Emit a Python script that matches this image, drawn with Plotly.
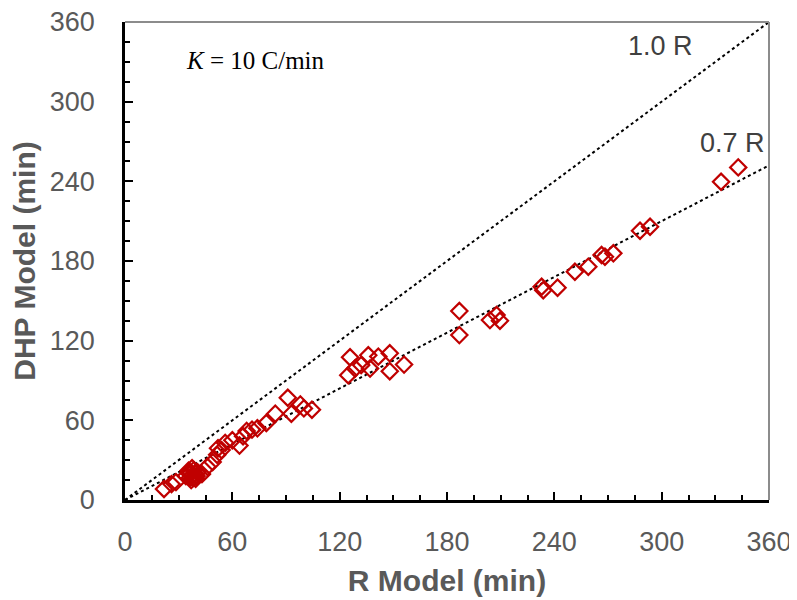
import plotly.graph_objects as go

r_model = [21.8, 26.0, 28.5, 34.0, 36.0, 37.5, 38.0, 39.0, 37.0, 40.0, 35.5, 36.5, 38.5, 39.5,
           40.5, 37.8, 36.2, 43.0, 46.0, 49.0,
           51.5, 52.0, 54.0, 56.0, 60.0, 64.0, 66.0, 68.0, 71.0, 74.0, 79.0, 84.0, 91.0, 93.0,
           98.0, 100.0, 104.5, 124.8, 125.8, 128.6, 132.0, 136.0, 137.0, 141.6, 148.0, 148.0,
           156.0, 186.9, 186.9, 204.0, 207.7, 209.6, 232.9, 233.8, 241.8, 251.5, 259.0, 266.4,
           268.3, 273.0, 287.9, 293.5, 333.2, 342.8]
dhp_model = [8.3, 12.0, 13.5, 18.0, 21.0, 24.0, 16.5, 20.0, 15.0, 18.0, 22.0, 17.0, 22.5, 16.0,
             21.0, 19.0, 19.5, 19.5, 25.0, 28.6,
             34.0, 39.0, 37.6, 43.0, 45.0, 41.0, 48.0, 52.0, 53.0, 54.0, 58.0, 65.0, 77.0, 65.0,
             72.0, 69.0, 68.0, 94.0, 107.5, 99.0, 101.6, 109.0, 99.0, 108.0, 110.5, 97.0,
             102.0, 142.3, 124.2, 135.5, 139.3, 135.0, 160.6, 158.0, 159.9, 171.9, 175.7, 184.5,
             183.2, 185.8, 202.8, 205.8, 239.7, 250.5]
ratio_lines = [1.0, 0.7]
ratio_labels = ["1.0 R", "0.7 R"]
axis_max = 360
tick_vals = [0, 60, 120, 180, 240, 300, 360]

fig = go.Figure()
for k in ratio_lines:
    fig.add_trace(go.Scatter(x=[0, axis_max], y=[0, k * axis_max], mode="lines",
                             line=dict(color="black", width=2, dash="dot"),
                             showlegend=False, hoverinfo="skip"))
fig.add_trace(go.Scatter(x=r_model, y=dhp_model, mode="markers",
                         marker=dict(symbol="diamond-open", size=12.5,
                                     line=dict(color="#C00000", width=2.2), color="#C00000"),
                         showlegend=False))

tickfont = dict(family="Liberation Sans, Arial", size=27, color="#595959")
titlefont = dict(family="Liberation Sans, Arial", size=30, color="#595959")
common = dict(range=[0, axis_max], tickvals=tick_vals, ticks="inside", ticklen=8, tickwidth=2,
              tickcolor="black", showline=True, linecolor="black", linewidth=2.5,
              showgrid=False, zeroline=False, tickfont=tickfont, automargin=False,
              ticklabeloverflow="allow",
              minor=dict(dtick=15, ticks="inside", ticklen=5, tickwidth=2, tickcolor="black", showgrid=False))
fig.update_xaxes(**common, title=dict(text="<b>R Model (min)</b>", font=titlefont, standoff=14),
                 ticklabelstandoff=16)
fig.update_yaxes(**common, title=dict(text="<b>DHP Model (min)</b>", font=titlefont, standoff=8),
                 ticklabelstandoff=22)

# top and right frame lines
fig.add_shape(type="line", xref="paper", yref="paper", x0=0, x1=1, y0=1, y1=1,
              line=dict(color="#8c8c8c", width=2))
fig.add_shape(type="line", xref="paper", yref="paper", x0=1, x1=1, y0=0, y1=1,
              line=dict(color="#8c8c8c", width=2))

labfont = dict(family="Liberation Sans, Arial", size=27, color="#404040")
fig.add_annotation(x=299.6, y=342, text=ratio_labels[0], showarrow=False, font=labfont)
fig.add_annotation(x=339.5, y=269, text=ratio_labels[1], showarrow=False, font=labfont)
fig.add_annotation(x=73.2, y=331, text="<i>K</i> = 10 C/min", showarrow=False,
                   font=dict(family="Liberation Serif, Times New Roman", size=25, color="black"))

fig.update_layout(width=789, height=592, margin=dict(l=117, r=28, t=14, b=100),
                  plot_bgcolor="white", paper_bgcolor="white")
fig.write_html("out.html")
